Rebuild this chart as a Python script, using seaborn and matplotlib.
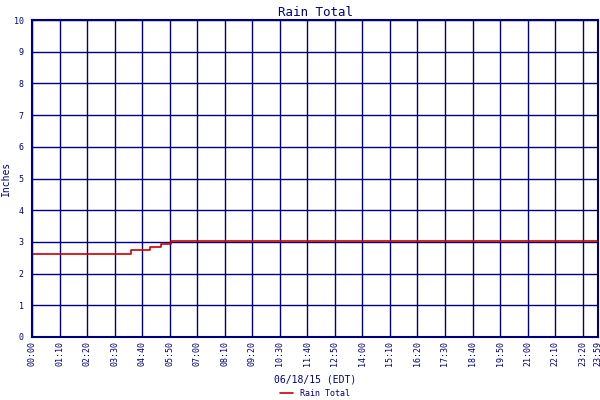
import matplotlib
matplotlib.use("Agg")
import matplotlib.pyplot as plt
import seaborn as sns
import pandas as pd

minutes = [0, 252, 299, 327, 353, 1439]
inches = [2.62, 2.75, 2.84, 2.94, 3.03, 3.03]
tick_minutes = list(range(0, 1401, 70)) + [1439]
tick_labels = [f"{m//60:02d}:{m%60:02d}" for m in tick_minutes]

sns.set_theme(style="white")
plt.rcParams['font.family'] = ['DejaVu Sans Mono']
navy = "#00007f"
fig = plt.figure(figsize=(6, 4), dpi=100)
ax = fig.add_axes([32/600, 63/400, 566/600, 317/400])
df = pd.DataFrame({"m": minutes, "v": inches})
sns.lineplot(data=df, x="m", y="v", drawstyle="steps-post", color="#cc0000", lw=1.2, ax=ax, label="Rain Total")
ax.set_xlim(0, 1439)
ax.set_ylim(0, 10)
ax.set_yticks(range(0, 11))
ax.set_xticks(tick_minutes)
ax.set_xticklabels(tick_labels, fontsize=6, color=navy)
ax.tick_params(axis='x', labelrotation=90, length=0, pad=3)
ax.tick_params(axis='y', labelsize=6, colors=navy, length=0, pad=6)
ax.grid(True, color=navy, lw=1.0)
ax.set_axisbelow(True)
for s in ax.spines.values():
    s.set_color(navy); s.set_linewidth(1.5)
ax.set_title("Rain Total", fontsize=9, color=navy, pad=3)
ax.set_xlabel("06/18/15 (EDT)", fontsize=7, color=navy, labelpad=6)
ax.set_ylabel("Inches", fontsize=7, color=navy, labelpad=2)
leg = ax.legend(loc="upper center", bbox_to_anchor=(0.5, -0.165), frameon=False, fontsize=6, handlelength=1.5, borderaxespad=0, borderpad=0)
for t in leg.get_texts():
    t.set_color(navy)
fig.savefig("out.png", dpi=100)
